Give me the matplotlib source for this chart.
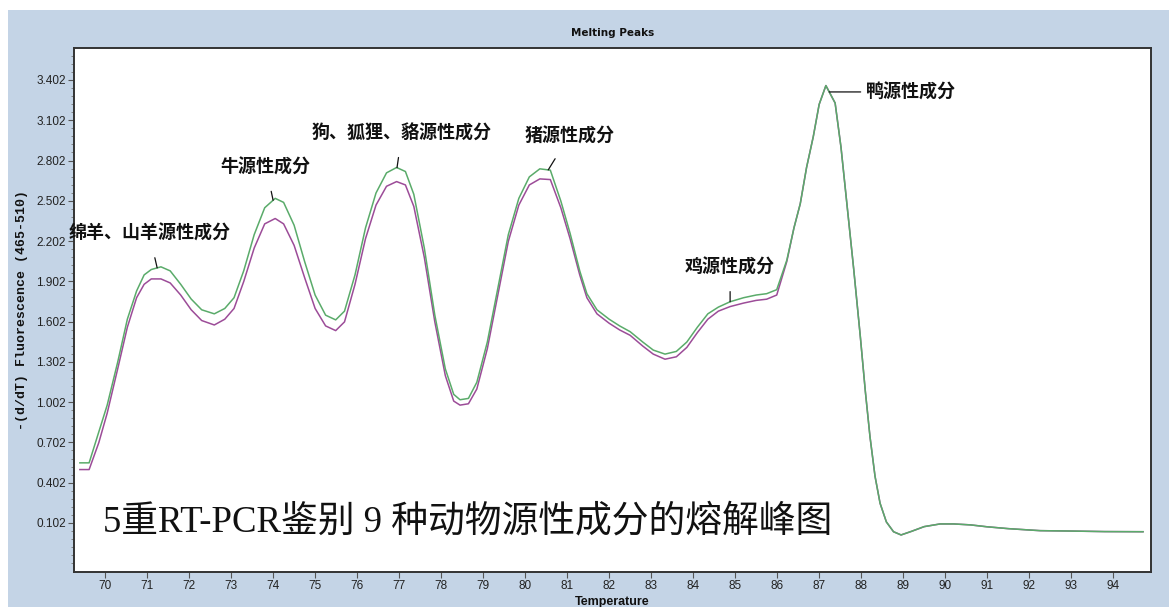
"""Melting peak curves of a 5-plex RT-PCR assay, with peak labels."""

import matplotlib.pyplot as plt
import numpy as np
from matplotlib.patches import Rectangle
from matplotlib.ticker import FixedLocator

# --------------------------------------------------
# curve data: temperature and -(d/dT) fluorescence
# --------------------------------------------------
temps = [
    69.40, 69.62, 69.85, 70.05, 70.30, 70.53, 70.75, 70.93, 71.10, 71.33,
    71.55, 71.80, 72.05, 72.30, 72.60, 72.85, 73.07, 73.30, 73.55, 73.80,
    74.05, 74.25, 74.50, 74.75, 75.00, 75.25, 75.49, 75.70, 75.95, 76.20,
    76.45, 76.70, 76.94, 77.15, 77.35, 77.60, 77.85, 78.10, 78.30, 78.45,
    78.65, 78.85, 79.10, 79.35, 79.60, 79.85, 80.10, 80.35, 80.60, 80.85,
    81.07, 81.30, 81.47, 81.71, 82.00, 82.25, 82.50, 82.80, 83.05, 83.33,
    83.60, 83.85, 84.10, 84.35, 84.60, 84.88, 85.20, 85.50, 85.75, 85.99,
    86.23, 86.40, 86.55, 86.70, 86.86, 87.00, 87.16, 87.38, 87.52, 87.66,
    87.82, 87.98, 88.10, 88.21, 88.33, 88.45, 88.60, 88.77, 88.95, 89.20,
    89.50, 89.88, 90.20, 90.60, 90.99, 91.50, 92.00, 92.26, 93.00, 93.80,
    94.71,
]

green_vals = [
    0.55, 0.55, 0.78, 0.98, 1.30, 1.62, 1.83, 1.95, 1.99, 2.01,
    1.98, 1.88, 1.77, 1.69, 1.66, 1.70, 1.78, 1.98, 2.25, 2.45,
    2.52, 2.49, 2.32, 2.05, 1.80, 1.65, 1.615, 1.68, 1.95, 2.30,
    2.56, 2.71, 2.75, 2.72, 2.55, 2.15, 1.65, 1.25, 1.06, 1.02,
    1.03, 1.15, 1.45, 1.85, 2.25, 2.52, 2.68, 2.74, 2.73, 2.50,
    2.26, 1.98, 1.81, 1.69, 1.62, 1.57, 1.527, 1.45, 1.39, 1.36,
    1.38, 1.45, 1.56, 1.66, 1.71, 1.75, 1.78, 1.80, 1.81, 1.84,
    2.06, 2.30, 2.48, 2.75, 2.98, 3.22, 3.36, 3.23, 2.90, 2.48,
    2.00, 1.49, 1.08, 0.745, 0.45, 0.249, 0.11, 0.037, 0.013, 0.04,
    0.075, 0.095, 0.095, 0.088, 0.074, 0.06, 0.05, 0.045, 0.042, 0.038,
    0.037,
]

magenta_vals = [
    0.50, 0.50, 0.70, 0.92, 1.25, 1.56, 1.78, 1.88, 1.92, 1.92,
    1.89, 1.80, 1.69, 1.61, 1.577, 1.62, 1.70, 1.90, 2.15, 2.33,
    2.37, 2.33, 2.17, 1.93, 1.70, 1.57, 1.535, 1.60, 1.88, 2.22,
    2.47, 2.61, 2.645, 2.62, 2.46, 2.08, 1.60, 1.20, 1.01, 0.98,
    0.99, 1.10, 1.40, 1.80, 2.20, 2.47, 2.62, 2.665, 2.66, 2.45,
    2.22, 1.95, 1.78, 1.66, 1.59, 1.54, 1.50, 1.42, 1.36, 1.322,
    1.34, 1.41, 1.52, 1.62, 1.68, 1.714, 1.74, 1.76, 1.769, 1.80,
    2.05, 2.30, 2.48, 2.75, 2.98, 3.22, 3.36, 3.23, 2.90, 2.48,
    2.00, 1.49, 1.08, 0.745, 0.45, 0.249, 0.11, 0.037, 0.013, 0.04,
    0.075, 0.095, 0.095, 0.088, 0.074, 0.06, 0.05, 0.045, 0.042, 0.038,
    0.037,
]

# --------------------------------------------------
# axis ticks and peak labels
# --------------------------------------------------
y_ticks = [0.102, 0.402, 0.702, 1.002, 1.302, 1.602, 1.902, 2.202, 2.502, 2.802, 3.102, 3.402]
x_ticks = list(range(70, 95))

# label text, temperature of the leader tip, text position (x, y)
peak_labels = ["绵羊、山羊源性成分", "牛源性成分", "狗、狐狸、貉源性成分", "猪源性成分", "鸡源性成分"]
peak_tips = [71.24, 74.0, 76.95, 80.55, 84.88]
peak_text_x = [71.05, 73.83, 77.07, 81.05, 84.88]
peak_text_y = [2.26, 2.755, 3.008, 2.986, 2.01]

duck_label = "鸭源性成分"
duck_tip = 87.24

title_big = "5重RT-PCR鉴别 9 种动物源性成分的熔解峰图"

# --------------------------------------------------
# figure and panel background
# --------------------------------------------------
fig = plt.figure(figsize=(11.69, 6.07), dpi=100, facecolor="white")
fig.patches.append(
    Rectangle((8 / 1169, 0), 1 - 8 / 1169, 1 - 10 / 607,
              transform=fig.transFigure, facecolor="#c4d4e6", edgecolor="none", zorder=-10)
)

ax = fig.add_axes([74 / 1169, 35 / 607, 1077 / 1169, 524 / 607])
ax.set_facecolor("white")

# --------------------------------------------------
# curves
# --------------------------------------------------
temps_arr = np.array(temps)
green = np.array(green_vals)
magenta = np.array(magenta_vals)

ax.plot(temps_arr, magenta, color="#9c4c98", lw=1.1, zorder=3)
ax.plot(temps_arr, green, color="#5aab6a", lw=1.1, zorder=4)

# --------------------------------------------------
# axes styling
# --------------------------------------------------
ax.set_xlim(69.26, 94.9)
ax.set_ylim(-0.263, 3.64)

ax.yaxis.set_major_locator(FixedLocator(y_ticks))
ax.set_yticklabels([f"{v:.3f}" for v in y_ticks])
ax.yaxis.set_minor_locator(FixedLocator(np.arange(-0.198, 3.6, 0.06)))
ax.xaxis.set_major_locator(FixedLocator(x_ticks))
ax.set_xticklabels([str(v) for v in x_ticks])

tick_font = ["Liberation Sans Narrow", "Liberation Sans", "DejaVu Sans"]
for lab in ax.get_xticklabels() + ax.get_yticklabels():
    lab.set_family(tick_font)
    lab.set_fontsize(8.5)
    lab.set_color("#222222")

ax.tick_params(axis="both", which="major", direction="out", length=4, width=0.8,
               color="#555555", pad=2)
ax.tick_params(axis="y", which="minor", direction="out", length=2, width=0.6, color="#777777")

for side in ax.spines.values():
    side.set_color("#333333")
    side.set_linewidth(1.4)

ax.set_title("Melting Peaks", fontsize=7.5, fontweight="bold", family="DejaVu Sans",
             pad=9, color="#111111")
ax.set_xlabel("Temperature", fontsize=9, fontweight="bold", family=tick_font,
              labelpad=3, color="#111111")
ax.set_ylabel("-(d/dT) Fluorescence (465-510)", fontsize=9.5, fontweight="bold",
              family="Liberation Mono", labelpad=6, color="#111111")

# --------------------------------------------------
# peak annotations
# --------------------------------------------------
label_font = ["Noto Sans CJK SC", "DejaVu Sans"]
for text, tip, tx, ty in zip(peak_labels, peak_tips, peak_text_x, peak_text_y):
    tip_y = float(np.interp(tip, temps_arr, green))
    ax.annotate(text, xy=(tip, tip_y), xytext=(tx, ty), ha="center", va="center",
                fontsize=13, fontweight="bold", family=label_font, color="#111111",
                arrowprops=dict(arrowstyle="-", color="#111111", lw=0.9, shrinkA=9, shrinkB=0),
                zorder=6)

duck_y = float(np.interp(duck_tip, temps_arr, green))
ax.annotate(duck_label, xy=(duck_tip, duck_y), xytext=(88.12, duck_y), ha="left", va="center",
            fontsize=13, fontweight="bold", family=label_font, color="#111111",
            arrowprops=dict(arrowstyle="-", color="#111111", lw=0.9, shrinkA=2, shrinkB=0),
            zorder=6)

# caption inside the plot area
ax.text(69.95, 0.11, title_big, ha="left", va="center", fontsize=26.5,
        family=["Liberation Serif", "Noto Sans CJK SC"], color="#111111", zorder=7)

fig.savefig("out.png", dpi=100, facecolor=fig.get_facecolor())
